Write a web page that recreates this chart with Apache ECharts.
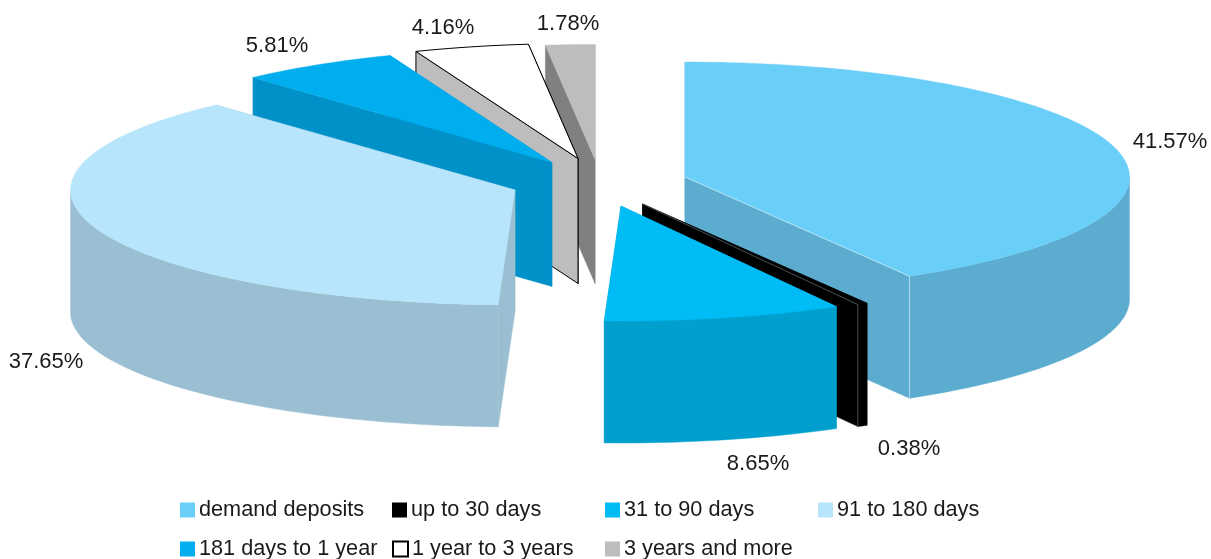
<!DOCTYPE html>
<html><head><meta charset="utf-8">
<style>html,body{margin:0;padding:0;background:#fff}#c{width:1211px;height:559px}</style>
<script src="https://cdn.jsdelivr.net/npm/echarts@6/dist/echarts.min.js"></script>
</head><body><div id="c"></div>
<script>
// ---- data ----
const categories = ['demand deposits','up to 30 days','31 to 90 days','91 to 180 days','181 days to 1 year','1 year to 3 years','3 years and more'];
const shares = [41.57,0.38,8.65,37.65,5.81,4.16,1.78];
const valueLabels = ['41.57%','0.38%','8.65%','37.65%','5.81%','4.16%','1.78%'];

// ---- styles and layout ----
const topColors  = ['#69cef8','#000000','#00bcf4','#b7e5fb','#00aeef','#ffffff','#bdbdbd'];
const wallColors = ['#5baccf','#000000','#009fce','#9bbfd2','#0091c9','#bdbdbd','#808080'];
const outlines   = [null,null,null,null,null,'#000000',null];
const seams      = ['#c4e9f9','#55666c',null,null,null,null,null];
const centers    = [[685,177],[642.5,204],[621,206],[515,190],[552,162.5],[578,158.5],[595,159.5]];
const depths     = [122,122,122,122,124,125,124];
const labelAt    = [[1170,142],[909,449],[758,464],[46,362],[277,46],[443,28],[568,24]];
const legendAt   = [[180,499],[392,499],[605,499],[818,499],[180,538],[392,538],[605,538]];
const paintOrder = [6,5,4,3,0,1,2];
const RX = 444.5, RY = 115;
const FONT = '"Liberation Sans", Arial, sans-serif';

const total = shares.reduce((a,b)=>a+b,0);
const starts = []; shares.reduce((acc,v,i)=>{starts[i]=acc;return acc+v;},0);

function rimPoint(c,deg,dy){
  const t = deg*Math.PI/180;
  return [c[0]+RX*Math.sin(t), c[1]-RY*Math.cos(t)+(dy||0)];
}
function arcPts(c,a,b,dy){
  const n = Math.max(2,Math.ceil(Math.abs(b-a)/1.5));
  const out=[]; for(let i=0;i<=n;i++) out.push(rimPoint(c,a+(b-a)*i/n,dy));
  return out;
}
function poly(points,fill,stroke,z){
  return {type:'polygon',z2:z,shape:{points},
    style:{fill,stroke:stroke||fill,lineWidth:stroke?1:0.4}};
}
function renderSlice(i,api){
  const v = api.value(0), from = api.value(1)/total*360, to = from+v/total*360;
  const c = centers[i], fill = topColors[i], wall = wallColors[i], line = outlines[i], DEPTH = depths[i];
  const cDown = [c[0],c[1]+DEPTH];
  const radial = d=>{const p=rimPoint(c,d),q=rimPoint(c,d,DEPTH);return [c,p,q,cDown];};
  const kids = [];
  kids.push(poly(radial(to),wall,line,1));
  kids.push(poly(radial(from),wall,line,2));
  // outer wall: only the front half (90deg to 270deg) faces the viewer
  const a = Math.max(from,90), b = Math.min(to,270);
  if(b>a){
    const up = arcPts(c,a,b,0), dn = arcPts(c,a,b,DEPTH).reverse();
    kids.push(poly(up.concat(dn),wall,line,3));
  }
  kids.push(poly([c].concat(arcPts(c,from,to,0)),fill,line,4));
  if(seams[i]){
    kids.push({type:'polyline',z2:5,shape:{points:[c,rimPoint(c,to),rimPoint(c,to,DEPTH)]},
      style:{fill:'none',stroke:seams[i],lineWidth:0.8}});
  }
  kids.push({type:'text',z2:6,x:labelAt[i][0],y:labelAt[i][1],
    style:{text:valueLabels[i],fill:'#1a1a1a',font:'22px '+FONT,align:'center',verticalAlign:'middle'}});
  return {type:'group',children:kids};
}

const series = paintOrder.map((i,k)=>({
  type:'custom',name:categories[i],coordinateSystem:'none',z:k+2,silent:true,
  animation:false,clip:false,
  itemStyle:{color:topColors[i],borderColor:outlines[i]||topColors[i],borderWidth:outlines[i]?1:0},
  data:[[shares[i],starts[i]]],
  renderItem:(p,api)=>renderSlice(i,api)
}));
const legends = categories.map((name,i)=>({
  data:[name],left:legendAt[i][0],top:legendAt[i][1],padding:0,
  itemWidth:15,itemHeight:15,itemGap:0,icon:'rect',selectedMode:false,
  textStyle:{fontFamily:FONT,fontSize:21.7,color:'#1a1a1a',padding:[0,0,0,-1]}
}));
const chart = echarts.init(document.getElementById('c'),null,{renderer:'canvas'});
chart.setOption({animation:false,backgroundColor:'#ffffff',legend:legends,series});
</script></body></html>
